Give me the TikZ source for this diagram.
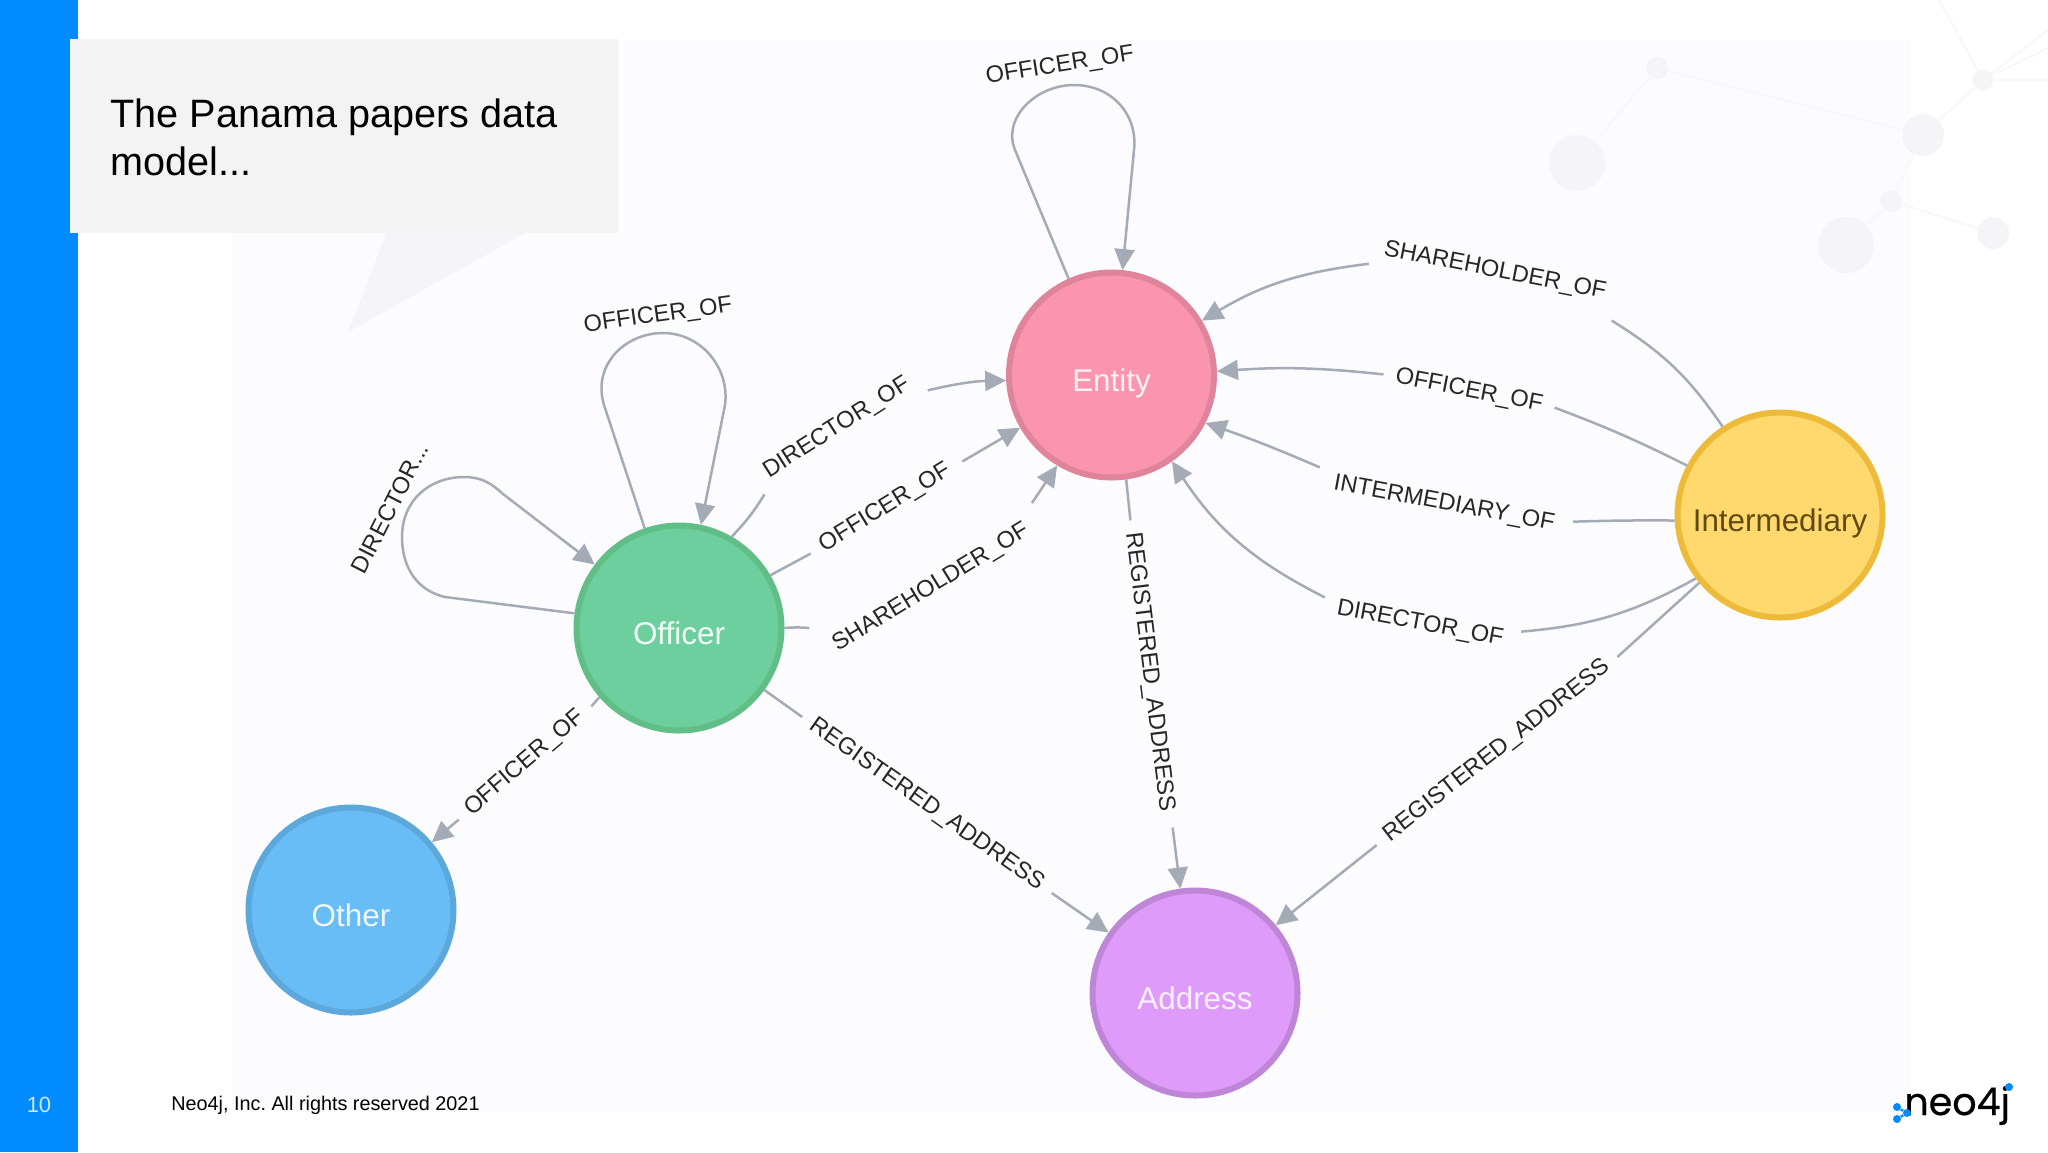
\documentclass[tikz,border=0pt]{standalone}
\usepackage{xcolor}
\usepackage{fontspec}
\setmainfont{Liberation Sans}
\newfontfamily\logofont[FakeBold=0.6]{Poppins}
\usetikzlibrary{arrows.meta,positioning,calc}
\definecolor{barblue}{HTML}{018BFF}
\definecolor{edgegray}{HTML}{A5ABB6}
\definecolor{panelbg}{HTML}{FCFCFE}
\definecolor{titlebg}{HTML}{F3F3F3}
\definecolor{faintnode}{HTML}{F5F5F8}
\definecolor{faintedge}{HTML}{F8F8FB}
\frenchspacing

\begin{document}
\begin{tikzpicture}[
    x=0.5pt, y=-0.5pt,
    entity/.style={circle, draw, line width=3pt, minimum size=102.5pt, inner sep=0pt,
        text height=16pt, text depth=0pt,
        font=\fontsize{15.7}{18}\selectfont},
    rel/.style={draw=edgegray, line width=1.25pt},
    relto/.style={rel, -{Triangle[length=10.5pt,width=10pt]}},
    rellabel/.style={inner xsep=6pt, inner ysep=3pt, text=black!85,
        font=\fontsize{11.8}{14}\selectfont},
    faint/.style={circle, fill=faintnode, inner sep=0pt},
    faintline/.style={draw=faintedge, line width=1pt},
    logodot/.style={circle, fill=barblue, inner sep=0pt, minimum size=4pt}
]
    \useasboundingbox (0,0) rectangle (2048,1152);
    % Slide
    \fill[white] (0,0) rectangle (2048,1152);
    \fill[panelbg] (232,40) rectangle (1911,1112);

    % Faint network
    \foreach \name/\x/\y/\r in {fa/1657/68/11, fb/1577/163/28, fc/1923/135/21, fd/1983/80/10.5, fe/1891/201/11, ff/1846/245/28, fg/1993/233/16} {
        \node[faint, minimum size=\r pt] (\name) at (\x, \y) {};
    }
    \foreach \a/\b in {fa/fb, fa/fc, fc/fd, fc/fe, fe/ff, fe/fg} {
        \draw[faintline] (\a) -- (\b);
    }
    \coordinate (fup) at (1939,0);
    \coordinate (fra) at (2048,30);
    \coordinate (frb) at (2048,48);
    \coordinate (frc) at (2048,80);
    \foreach \b in {fup, fra, frb, frc} {
        \draw[faintline] (fd) -- (\b);
    }

    \fill[barblue] (0,0) rectangle (78,1152);
    \fill[faintnode] (387,232) -- (527,232) -- (348,332) -- cycle;
    \fill[titlebg] (70,39) rectangle (618,233);
    \node[anchor=base west, inner sep=0pt, align=left, font=\fontsize{19.8}{23.6}\selectfont] (title) at (110,175) {The Panama papers data\\model...};

    % Nodes
    \foreach \name/\x/\y/\fillc/\linec/\textc in {
        Entity/1111.5/375/FB95AF/E0849B/FFF2F5,
        Officer/679/628/6DCE9E/60BE86/F0FFF6,
        Other/351/910/68BDF6/5CA8DB/F0F8FF,
        Address/1195/993/DE9BF9/BF85D6/FBF0FF,
        Intermediary/1780/515/FFD86E/EDBA39/604A0E} {
        \definecolor{nodefill}{HTML}{\fillc}
        \definecolor{nodeline}{HTML}{\linec}
        \definecolor{nodetext}{HTML}{\textc}
        \node[entity, fill=nodefill, draw=nodeline, text=nodetext] (\name) at (\x, \y) {\name};
    }

    % Labels
    \foreach \name/\x/\y/\ang/\txt in {
        lEntLoop/1060/66/9/OFFICER\_OF,
        lShareR/1495/271/-11/SHAREHOLDER\_OF,
        lOffR/1469/391/-11/OFFICER\_OF,
        lInter/1444/504/-10.5/INTERMEDIARY\_OF,
        lDirR/1420/624/-10.5/DIRECTOR\_OF,
        lRegR/1497/751/38/REGISTERED\_ADDRESS,
        lRegM/1149/672/-83/REGISTERED\_ADDRESS,
        lRegL/927/805/-35.2/REGISTERED\_ADDRESS,
        lOther/525/763/40.5/OFFICER\_OF,
        lShareL/931/588/31.5/SHAREHOLDER\_OF,
        lOffL/885/508/31.5/OFFICER\_OF,
        lDirL/837/428/32.5/DIRECTOR\_OF,
        lOffLoop/658/316/8/OFFICER\_OF} {
        \node[rellabel, rotate=\ang] (\name) at (\x, \y) {\txt};
    }
    \node[rellabel, rotate=63] (lDirLoop) at (390,508) {DIRECTOR...};

    % Officer to Entity
    \draw[rel] (Officer.60) to[bend right=6] (lDirL.south west);
    \draw[relto] (lDirL.south east) to[bend left=6] (Entity.183);
    \draw[rel] (Officer.30) -- (lOffL.west);
    \draw[relto] ($(lOffL.east)+(3,-1)$) -- (Entity.210);
    \draw[rel] (Officer.0) to[bend left=4] ($(lShareL.north west)+(-6,-11)$);
    \draw[relto] ($(lShareL.north east)+(3,-5)$) -- (Entity.239);

    % Intermediary to Entity
    \draw[rel] (Intermediary.123) to[bend right=12] ($(lShareR.south east)+(-3,9)$);
    \draw[relto] (lShareR.south west) to[bend right=12] (Entity.31);
    \draw[rel] (Intermediary.152) to[bend right=3] (lOffR.east);
    \draw[relto] (lOffR.west) to[bend right=5] (Entity.2);
    \draw[rel] (Intermediary.183) to[bend right=1] ($(lInter.east)+(7,-5)$);
    \draw[relto] ($(lInter.west)+(-2,-14)$) to[bend right=2] (Entity.333);
    \draw[rel] (Intermediary.217) to[bend left=12] ($(lDirR.east)+(6,-10)$);
    \draw[relto] ($(lDirR.west)+(0,-9)$) to[bend left=15] (Entity.305);

    % Registered address
    \draw[rel] (Entity.278) -- (lRegM.west);
    \draw[relto] ($(lRegM.east)+(5,4)$) -- (Address.98);
    \draw[rel] (Officer.324) -- (lRegL.west);
    \draw[relto] (lRegL.east) -- (Address.145);
    \draw[rel] (Intermediary.220) -- (lRegR.east);
    \draw[relto] (lRegR.west) -- (Address.40);

    % Officer to Other
    \draw[rel] (Officer.221) -- (lOther.east);
    \draw[relto] (lOther.west) -- (Other.40);

    % Loops
    \draw[relto] (Entity.114) -- (1015,150) .. controls (1002,118) and (1036,85) .. (1074,85) .. controls (1112,85) and (1138,115) .. (1134,150) -- (Entity.84);
    \draw[relto] (Officer.109) -- (604,405) .. controls (592,365) and (625,333) .. (663,333) .. controls (701,333) and (730,368) .. (725,405) -- (Officer.78);
    \draw[relto] (Officer.172) -- (445,597) .. controls (415,590) and (402,565) .. (402,537) .. controls (402,500) and (430,477) .. (464,477) .. controls (480,477) and (490,482) .. (503,494) -- (Officer.143);

    % Footer
    \node[inner sep=0pt, text=white!80!barblue, font=\fontsize{11}{13}\selectfont] (pagenum) at (39,1105) {10};
    \node[anchor=west, inner sep=0pt, font=\fontsize{9.9}{12}\selectfont] (footer) at (171,1105) {Neo4j, Inc. All rights reserved 2021};

    % Logo
    \node[anchor=base west, inner sep=0pt, font=\logofont\fontsize{19}{22}\selectfont] (logotext) at (1904,1115) {neo4j};
    \node[logodot] (logoa) at (1897,1107) {};
    \node[logodot] (logob) at (1907,1113) {};
    \node[logodot] (logoc) at (1897,1119) {};
    \draw[barblue, line width=1.2pt] (logoa) -- (logob) -- (logoc);
    \node[logodot] (logoj) at (2009,1087) {};
\end{tikzpicture}
\end{document}
